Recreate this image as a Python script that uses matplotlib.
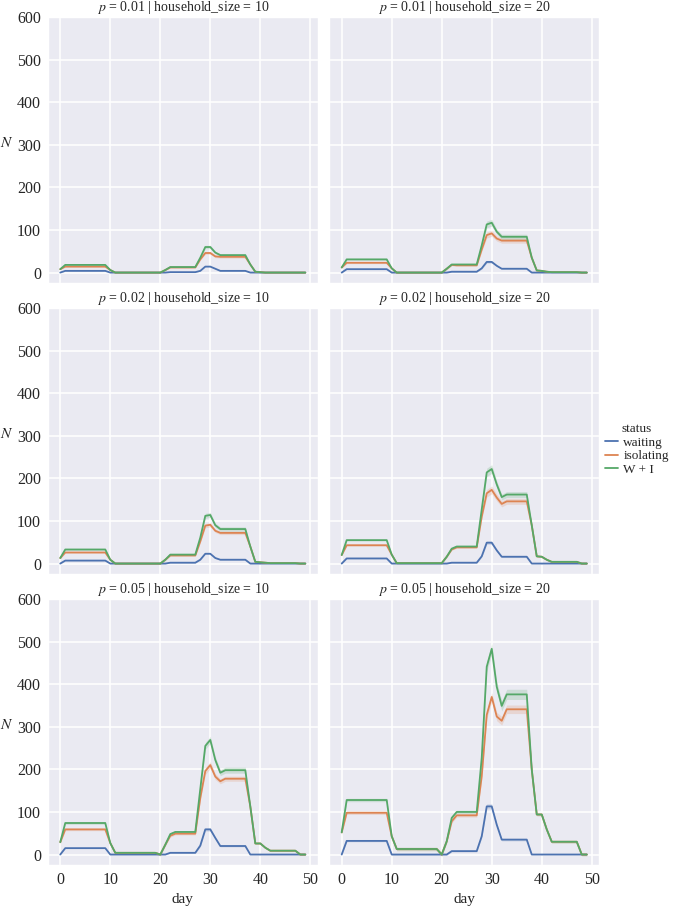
import matplotlib
matplotlib.use("Agg")
import matplotlib.pyplot as plt
import seaborn as sns

# Mean number of people per status, days 0..49
day = list(range(50))
p_values = ["0.01", "0.02", "0.05"]
household_sizes = ["10", "20"]
statuses = ["waiting", "isolating", "W + I"]

# p = 0.01
wait_001_10 = [0] + [4] * 9 + [0] * 12 + [1] * 6 + [4, 14, 14, 9] + [4] * 6 + [0] * 12
iso_001_10 = [8] + [14] * 9 + [6] + [0] * 10 + [6] + [12] * 6 + [31, 46, 46, 38] + [37] * 6 + [19, 2, 1] + [0] * 9
wi_001_10 = [8] + [18] * 9 + [6] + [0] * 10 + [6] + [13] * 6 + [35, 60, 60, 47] + [41] * 6 + [19, 2, 1] + [0] * 9

wait_001_20 = [0] + [8] * 9 + [0] * 12 + [2] * 6 + [10, 25, 25, 16] + [9] * 6 + [0] * 12
iso_001_20 = [12] + [23] * 9 + [10] + [0] * 10 + [9, 18] + [17] * 5 + [54, 88, 92, 80] + [75] * 6 + [35, 5, 4, 2] + [1] * 6 + [0] * 2
wi_001_20 = [12] + [31] * 9 + [10] + [0] * 10 + [9, 19] + [19] * 5 + [64, 113, 117, 96] + [84] * 6 + [35, 5, 4, 2] + [1] * 6 + [0] * 2

# p = 0.02
wait_002_10 = [0] + [7] * 9 + [0] * 12 + [2] * 6 + [9, 23, 23, 13] + [9] * 6 + [0] * 12
iso_002_10 = [13] + [26] * 9 + [9] + [0] * 10 + [9] + [19] * 6 + [52, 89, 91, 77] + [72] * 6 + [40, 4, 3, 2] + [1] * 6 + [0] * 2
wi_002_10 = [13] + [33] * 9 + [9] + [0] * 10 + [9] + [21] * 6 + [61, 112, 114, 90] + [81] * 6 + [40, 4, 3, 2] + [1] * 6 + [0] * 2

wait_002_20 = [0] + [12] * 9 + [0] * 12 + [2] * 6 + [17, 49, 49, 31] + [16] * 6 + [0] * 12
iso_002_20 = [20] + [43] * 9 + [21] + [1] * 10 + [16, 33] + [38] * 5 + [110, 165, 173, 155, 140] + [146] * 5 + [90, 17, 16, 9] + [4] * 6 + [0] * 2
wi_002_20 = [20] + [55] * 9 + [21] + [1] * 10 + [16, 35] + [40] * 5 + [127, 214, 222, 186, 156] + [162] * 5 + [90, 17, 16, 9] + [4] * 6 + [0] * 2

# p = 0.05
wait_005_10 = [0] + [15] * 9 + [0] * 12 + [4] * 6 + [21, 59, 59, 39] + [20] * 6 + [0] * 12
iso_005_10 = [29] + [59] * 9 + [27] + [4] * 9 + [0] + [23, 44] + [49] * 5 + [133, 196, 210, 183, 172] + [178] * 5 + [113, 26, 26, 16] + [9] * 6 + [0] * 2
wi_005_10 = [29] + [74] * 9 + [27] + [4] * 9 + [0] + [23, 48] + [53] * 5 + [154, 255, 269, 222, 192] + [198] * 5 + [113, 26, 26, 16] + [9] * 6 + [0] * 2

wait_005_20 = [0] + [32] * 9 + [0] * 12 + [8] * 6 + [43, 113, 113, 70] + [35] * 6 + [0] * 12
iso_005_20 = [52] + [98] * 9 + [43] + [13] * 9 + [0] + [31, 78] + [92] * 5 + [184, 328, 370, 324, 314] + [341] * 5 + [200, 94, 94, 59] + [30] * 6 + [0] * 2
wi_005_20 = [52] + [128] * 9 + [43] + [13] * 9 + [0] + [31, 86] + [100] * 5 + [227, 441, 483, 394, 349] + [376] * 5 + [200, 94, 94, 59] + [30] * 6 + [0] * 2

# half widths of the confidence bands (estimated)
ci_wait_001_10 = [0.5] * 50
ci_iso_001_10 = [1] * 28 + [2, 3, 3, 3] + [3] * 6 + [1] * 12
ci_wi_001_10 = [1] * 28 + [2, 4, 4, 3] + [3] * 6 + [1] * 12
ci_wait_001_20 = [1] * 28 + [2, 3, 3, 2] + [1] * 6 + [0.5] * 12
ci_iso_001_20 = [2] * 28 + [4, 7, 7, 6] + [6] * 6 + [1] * 12
ci_wi_001_20 = [2] * 28 + [4, 8, 8, 6] + [6] * 6 + [1] * 12
ci_wait_002_10 = [1] * 50
ci_iso_002_10 = [2] * 28 + [3, 5, 5, 4] + [4] * 6 + [1] * 12
ci_wi_002_10 = [2] * 28 + [4, 6, 6, 5] + [5] * 6 + [1] * 12
ci_wait_002_20 = [1] * 28 + [2, 4, 4, 3] + [2] * 6 + [0.5] * 12
ci_iso_002_20 = [2] * 28 + [5, 9, 9, 8] + [7] * 6 + [2] * 12
ci_wi_002_20 = [2] * 28 + [6, 10, 10, 8] + [7] * 6 + [2] * 12
ci_wait_005_10 = [1] * 28 + [3, 4, 4, 3] + [2] * 6 + [0.5] * 12
ci_iso_005_10 = [3] * 28 + [6, 8, 8, 7] + [6] * 6 + [2] * 12
ci_wi_005_10 = [3] * 28 + [8, 8, 8, 8] + [7] * 6 + [2] * 12
ci_wait_005_20 = [2] * 28 + [4, 6, 6, 4] + [3] * 6 + [0.5] * 12
ci_iso_005_20 = [4] * 28 + [8, 10, 10, 10] + [10] * 6 + [3] * 12
ci_wi_005_20 = [4] * 28 + [10, 12, 12, 12] + [12] * 6 + [3] * 12

panels = {
    ("0.01", "10"): ([wait_001_10, iso_001_10, wi_001_10], [ci_wait_001_10, ci_iso_001_10, ci_wi_001_10]),
    ("0.01", "20"): ([wait_001_20, iso_001_20, wi_001_20], [ci_wait_001_20, ci_iso_001_20, ci_wi_001_20]),
    ("0.02", "10"): ([wait_002_10, iso_002_10, wi_002_10], [ci_wait_002_10, ci_iso_002_10, ci_wi_002_10]),
    ("0.02", "20"): ([wait_002_20, iso_002_20, wi_002_20], [ci_wait_002_20, ci_iso_002_20, ci_wi_002_20]),
    ("0.05", "10"): ([wait_005_10, iso_005_10, wi_005_10], [ci_wait_005_10, ci_iso_005_10, ci_wi_005_10]),
    ("0.05", "20"): ([wait_005_20, iso_005_20, wi_005_20], [ci_wait_005_20, ci_iso_005_20, ci_wi_005_20]),
}

sns.set_theme(style="darkgrid", context="paper")
plt.rcParams["font.family"] = ["Liberation Serif", "DejaVu Serif"]
plt.rcParams["mathtext.fontset"] = "stix"
colors = sns.color_palette("deep")[:3]

fig, axes = plt.subplots(3, 2, figsize=(6.78, 9.06), dpi=100, sharex=True, sharey=True)
fig.subplots_adjust(left=0.0708, right=0.8835, top=0.9812, bottom=0.0453,
                    wspace=0.044, hspace=0.094)

lines = []
for i, p in enumerate(p_values):
    for j, hs in enumerate(household_sizes):
        ax = axes[i, j]
        series, cis = panels[(p, hs)]
        for k in range(3):
            lo = [v - c for v, c in zip(series[k], cis[k])]
            hi = [v + c for v, c in zip(series[k], cis[k])]
            ax.fill_between(day, lo, hi, color=colors[k], alpha=0.2, linewidth=0)
            ln, = ax.plot(day, series[k], color=colors[k], lw=1.3)
            if i == 0 and j == 0:
                lines.append(ln)
        ax.set_title(f"$p$ = {p} | household_size = {hs}", fontsize=10, pad=4)
        ax.tick_params(length=0, pad=5, labelsize=11.5)
        ax.grid(True, color="white", lw=1.1)
        if j == 0:
            ax.set_ylabel("$N$", rotation=0, fontsize=11)
            ax.yaxis.set_label_coords(-0.155, 0.5)
        if i == 2:
            ax.set_xlabel("day", fontsize=11)

axes[0, 0].set_xlim(-2.45, 51.45)
axes[0, 0].set_xticks([0, 10, 20, 30, 40, 50])
axes[0, 0].set_ylim(-24.5, 600)
axes[0, 0].set_yticks([0, 100, 200, 300, 400, 500, 600])

fig.legend(lines, statuses, title="status", loc="center left",
           bbox_to_anchor=(605 / 678, 0.504), frameon=False, fontsize=9.5,
           title_fontsize=9.5, handlelength=1.0, handletextpad=0.4,
           labelspacing=0.1, borderaxespad=0, borderpad=0)

fig.savefig("out.png", dpi=100)
